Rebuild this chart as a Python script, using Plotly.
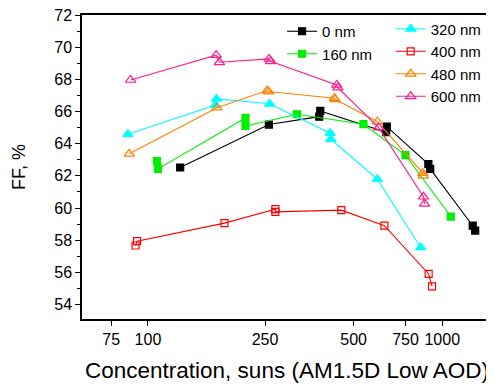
import plotly.graph_objects as go

# Concentration (suns) and FF (%) per ARC thickness
conc_0 = [128.7, 257.6, 382, 385, 645, 648, 897, 910, 1269, 1294]
ff_0 = [62.52, 65.19, 65.68, 66.04, 64.71, 65.06, 62.73, 62.43, 58.9, 58.6]

conc_160 = [107.3, 108.1, 214.5, 214.5, 320.6, 540, 750, 1069]
ff_160 = [62.91, 62.43, 65.6, 65.1, 65.83, 65.21, 63.29, 59.47]

conc_320 = [85.5, 169.5, 171.0, 259, 416, 418, 602, 845]
ff_320 = [64.59, 66.4, 66.78, 66.48, 64.65, 64.28, 61.79, 57.55]

conc_400 = [90.8, 91.8, 182, 271, 271, 454, 636, 899, 923]
ff_400 = [57.67, 57.94, 59.06, 59.93, 59.76, 59.87, 58.9, 55.9, 55.13]

conc_480 = [86.4, 171.7, 254, 257, 430, 433, 602, 859, 862]
ff_480 = [63.37, 66.24, 67.3, 67.24, 66.83, 66.76, 65.37, 62.17, 62.0]

conc_600 = [87.3, 170.6, 175, 258, 261, 438, 442, 608, 863, 871]
ff_600 = [67.96, 69.5, 69.06, 69.27, 69.12, 67.65, 67.48, 65.0, 60.7, 60.26]

x_ticks = [75, 100, 250, 500, 750, 1000]
x_ticklabels = ["75", "100", "250", "500", "750", "1000"]
y_ticks = [54, 56, 58, 60, 62, 64, 66, 68, 70, 72]

series = [
    ("0 nm", conc_0, ff_0, "#000000", "square", "legend"),
    ("160 nm", conc_160, ff_160, "#00ee00", "square", "legend"),
    ("320 nm", conc_320, ff_320, "#00ffff", "triangle-up", "legend2"),
    ("400 nm", conc_400, ff_400, "#ff0000", "square-open", "legend2"),
    ("480 nm", conc_480, ff_480, "#ff8000", "triangle-up-open", "legend2"),
    ("600 nm", conc_600, ff_600, "#ff1a8c", "triangle-up-open", "legend2"),
]

fig = go.Figure()
for name, xs, ys, col, sym, lg in series:
    size = 7 if "square" in sym else 9
    fig.add_trace(go.Scatter(
        x=xs, y=ys, mode="lines+markers", name=name, legend=lg,
        line=dict(color=col, width=1.1),
        marker=dict(symbol=sym, size=size, color=col,
                    line=dict(color=col, width=1.2)),
    ))

font_family = "Arial, Liberation Sans, sans-serif"
# page body has an 8px default margin; figure sized/margined to compensate
fig.update_layout(
    width=486, height=379,
    margin=dict(l=74, r=2, t=7, b=68),
    paper_bgcolor="white", plot_bgcolor="white",
    font=dict(family=font_family, color="black", size=16),
    showlegend=True,
    legend=dict(x=0.488, y=1.0, xanchor="left", yanchor="top",
                bgcolor="rgba(0,0,0,0)", borderwidth=0,
                font=dict(size=15), tracegroupgap=0),
    legend2=dict(x=0.753, y=1.008, xanchor="left", yanchor="top",
                 bgcolor="rgba(0,0,0,0)", borderwidth=0,
                 font=dict(size=15), tracegroupgap=0),
    xaxis=dict(
        type="log", range=[1.776, 3.169], automargin=False,
        tickmode="array", tickvals=x_ticks, ticktext=x_ticklabels,
        ticks="outside", ticklen=5, tickwidth=1.2, tickcolor="black",
        showline=True, linecolor="black", linewidth=1.5, mirror=True,
        showgrid=False, zeroline=False, ticklabeloverflow="allow",
        tickfont=dict(size=16),
        title=dict(text="Concentration, suns (AM1.5D Low AOD)",
                   font=dict(size=22.5), standoff=15),
    ),
    yaxis=dict(
        range=[53.1, 72], automargin=False,
        tickmode="array", tickvals=y_ticks,
        ticks="outside", ticklen=5, tickwidth=1.2, tickcolor="black",
        minor=dict(tickvals=[53, 55, 57, 59, 61, 63, 65, 67, 69, 71],
                   ticks="outside", ticklen=3, tickcolor="black", tickwidth=1),
        showline=True, linecolor="black", linewidth=1.5, mirror=True,
        showgrid=False, zeroline=False, ticklabeloverflow="allow",
        tickfont=dict(size=16),
        title=dict(text="FF, %", font=dict(size=18), standoff=24),
    ),
)

fig.write_html("out.html")
